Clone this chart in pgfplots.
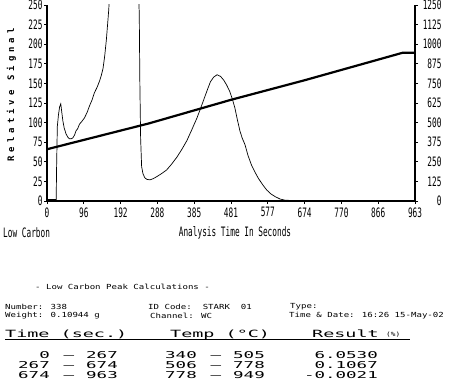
\documentclass[border=0pt]{standalone}
\usepackage{pgfplots}
\pgfplotsset{compat=1.18}
\usepackage{fontspec}
\setmainfont{DejaVu Sans}
\newfontfamily\tickf[FakeStretch=0.6]{DejaVu Sans Mono}
\newfontfamily\smallf[FakeStretch=1.3]{DejaVu Sans Mono}
\newfontfamily\widef[FakeStretch=1.85]{DejaVu Sans Mono}
\newfontfamily\labf[LetterSpace=45]{DejaVu Sans Mono}
\newcommand\tickfont{\tickf\fontsize{13}{13}\selectfont}
\begin{document}
\begin{tikzpicture}[x=1bp,y=1bp]
\path[use as bounding box] (0,0) rectangle (450,379);
\begin{axis}[
  at={(47bp,178bp)}, anchor=south west,
  scale only axis, width=368bp, height=196bp,
  xmin=0, xmax=963, ymin=0, ymax=250,
  axis x line*=bottom, axis y line*=left,
  axis line style={line width=1.3bp, -},
  tick align=outside, major tick length=3bp,
  tick style={black, line width=0.8bp},
  xtick={0,96.3,192.6,288.9,385.2,481.5,577.8,674.1,770.4,866.7,963},
  xticklabels={0,96,192,288,385,481,577,674,770,866,963},
  ytick={0,25,...,250},
  ticklabel style={font=\tickfont},
  yticklabel style={xshift=2bp},
  /pgf/number format/assume math mode=true,
  /pgf/number format/1000 sep={},
]
\addplot[black, line width=0.7bp] coordinates {
(0,0) (24,0) (25,40) (27,95) (30,110) (33,120) (36,124) (39,112) (41.6,102)
(45,93) (50,85.4) (55,81) (59,79.3) (64,79.5) (67.7,80.6) (72,84) (76,89.6)
(80,92) (85,98) (92,102) (98,106) (105,113) (111,121) (118,129) (124,138)
(131,145) (137.5,153) (142,160) (146.6,169) (151,185) (155.4,206) (159,228)
(161.6,244) (163,258) (165,280) (238,280) (240,258) (241.4,240) (243,150)
(245,80) (247.6,44) (251,35) (256,29.5) (262,27.5) (269.5,27) (278,28.5)
(287,31) (300,35) (313,39.6) (326,47) (340,56) (353,66) (366,77) (379,91)
(392.5,106) (401,117) (410,129) (419,141) (427.6,152) (436,158) (445,161)
(454,159) (462.7,154) (470,148) (478,140) (485,130) (491.5,119) (498,104)
(505,89) (511,80) (518,72) (526,58) (535,46) (544,37) (553,29) (564,21)
(575,14) (586,9) (597,5.6) (610,2.5) (623,1) (650,0.5) (963,0.5)
};
\addplot[black, line width=2bp] coordinates {(0,1.2) (23,1.2)};
\end{axis}
\begin{axis}[
  at={(47bp,178bp)}, anchor=south west,
  scale only axis, width=368bp, height=196bp,
  xmin=0, xmax=963, ymin=0, ymax=1250,
  hide x axis,
  axis y line*=right,
  axis line style={line width=1.3bp, -},
  tick align=outside, major tick length=3bp,
  tick style={black, line width=0.8bp},
  ytick={0,125,...,1250},
  ticklabel style={font=\tickfont},
  yticklabel style={anchor=east, xshift=27bp},
  /pgf/number format/assume math mode=true,
  /pgf/number format/1000 sep={},
]
\addplot[black, line width=2.2bp] coordinates {
(0,330) (267,495) (481,645) (674,770) (930,945) (963,945)
};
\end{axis}
\node[anchor=west, inner sep=0, font=\tickfont] at (3,146) {Low Carbon};
\node[inner sep=0, font=\tickfont] at (235,146) {Analysis Time In Seconds};
\node[rotate=90, inner sep=0, font=\labf\bfseries\fontsize{9}{9}\selectfont] at (11.5,284) {Relative Signal};
% calculation block
\begin{scope}[every node/.style={inner sep=0, font=\smallf\fontsize{7}{8}\selectfont}]
\node[anchor=west] at (35,92) {- Low Carbon Peak Calculations -};
\node[anchor=west] at (5,72) {Number: 338};
\node[anchor=west] at (5,63) {Weight: 0.10944 g};
\node[anchor=west] at (148,72) {ID Code:~~STARK~~01};
\node[anchor=west] at (150,63) {Channel: WC};
\node[anchor=west] at (290,72) {Type:};
\node[anchor=west] at (289,63) {Time \& Date: 16:26 15-May-02};
\end{scope}
\begin{scope}[every node/.style={inner sep=0, font=\widef\fontsize{10}{10}\selectfont}]
\node[anchor=base west] at (5,42) {Time (sec.)};
\node[anchor=base west] at (170,42) {Temp (°C)};
\node[anchor=base west] at (312,42) {Result};
\node[anchor=base west, font=\smallf\fontsize{6}{6}\selectfont] at (386,43) {(\%)};
\end{scope}
\draw[line width=1.2bp] (5,39.5) -- (410,39.5);
\begin{scope}[every node/.style={inner sep=0, font=\widef\fontsize{9.5}{9.5}\selectfont}]
\node[anchor=base east] at (50,21) {0};
\node[anchor=base] at (69,21) {—};
\node[anchor=base west] at (86,21) {267};
\node[anchor=base east] at (50,11) {267};
\node[anchor=base] at (69,11) {—};
\node[anchor=base west] at (86,11) {674};
\node[anchor=base east] at (50,1) {674};
\node[anchor=base] at (69,1) {—};
\node[anchor=base west] at (86,1) {963};
\node[anchor=base west] at (165,21) {340};
\node[anchor=base] at (216,21) {—};
\node[anchor=base west] at (233,21) {505};
\node[anchor=base west] at (165,11) {506};
\node[anchor=base] at (216,11) {—};
\node[anchor=base west] at (233,11) {778};
\node[anchor=base west] at (165,1) {778};
\node[anchor=base] at (216,1) {—};
\node[anchor=base west] at (233,1) {949};
\node[anchor=base east] at (378,21) {6.0530};
\node[anchor=base east] at (378,11) {0.1067};
\node[anchor=base east] at (378,1) {-0.0021};
\end{scope}
\end{tikzpicture}
\end{document}
